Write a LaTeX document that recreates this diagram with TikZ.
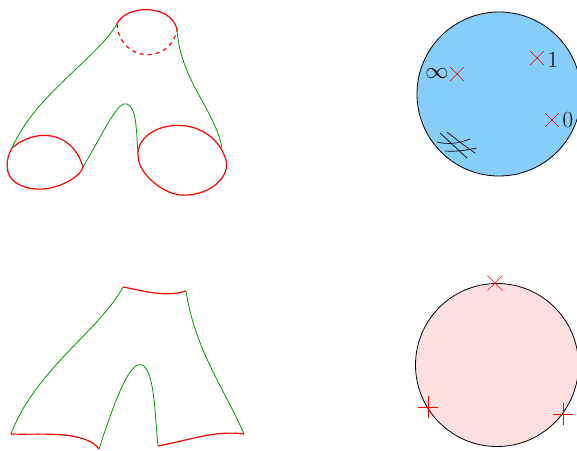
\documentclass[tikz,border=0pt]{standalone}
\usepackage{amsmath}
\usepackage{tikz}
\definecolor{seam}{RGB}{0,150,0}
\definecolor{sphere}{RGB}{135,206,250}
\definecolor{disc}{RGB}{255,224,224}
\tikzset{
  every picture/.style={font=\fontsize{17}{20}\selectfont},
  cuff/.style={red,line width=0.9pt},
  side/.style={seam,line width=0.6pt},
  puncture/.style={red,line width=0.5pt},
  rim/.style={draw=black,line width=0.6pt},
}
\begin{document}
\begin{tikzpicture}[x=0.75pt,y=-0.75pt]
  \useasboundingbox (0,0) rectangle (577,450);
  % pair of pants, closed
  \draw[cuff] (117,24) .. controls (125,5) and (170,3) .. (177,29);
  \draw[cuff,dashed] (117,24) .. controls (120,64) and (172,64) .. (177,29);
  \draw[cuff] (12,148) .. controls (35,128) and (72,130) .. (83,167)
    .. controls (80,180) and (40,200) .. (15,182) .. controls (5,175) and (5,160) .. cycle;
  \draw[cuff] (138,153) .. controls (140,120) and (210,110) .. (226,160)
    .. controls (232,185) and (190,205) .. (165,190) .. controls (150,182) and (137,168) .. cycle;
  \draw[side] (117,24) .. controls (95,60) and (35,95) .. (12,148);
  \draw[side] (83,167) .. controls (105,130) and (118,100) .. (127,104)
    .. controls (137,108) and (136,130) .. (138,152);
  \draw[side] (177,29) .. controls (180,80) and (215,110) .. (222,148);
  % sphere with three punctures
  \fill[sphere] (499,94) circle (82);
  \draw[rim] (499,94) circle (82);
  \draw[puncture] (457,74) +(-7,-7) -- +(7,7) +(-7,7) -- +(7,-7);
  \draw[puncture] (537,58) +(-7,-7) -- +(7,7) +(-7,7) -- +(7,-7);
  \draw[puncture] (552,120) +(-7,-7) -- +(7,7) +(-7,7) -- +(7,-7);
  \node (inf) at (437,74) {$\infty$};
  \node (one) at (553,60) {$1$};
  \node (zero) at (568,120) {$0$};
  \draw[line width=0.5pt] (440,133) .. controls (450,142) and (458,150) .. (467,158);
  \draw[line width=0.5pt] (447,132) .. controls (457,140) and (465,146) .. (475,153);
  \draw[line width=0.5pt] (437,142) .. controls (448,145) and (460,143) .. (470,139);
  \draw[line width=0.5pt] (445,151) .. controls (456,152) and (467,150) .. (477,148);
  % pair of pants, cut open
  \draw[cuff] (123,287) .. controls (140,290) and (165,298) .. (186,291);
  \draw[cuff] (11,434) .. controls (40,435) and (85,430) .. (99,449);
  \draw[cuff] (158,446) .. controls (190,440) and (215,430) .. (244,434);
  \draw[side] (123,287) .. controls (100,330) and (35,370) .. (11,434);
  \draw[side] (99,449) .. controls (115,400) and (130,360) .. (142,365)
    .. controls (155,370) and (155,420) .. (158,446);
  \draw[side] (186,291) .. controls (195,350) and (225,390) .. (244,434);
  % disc with boundary points
  \fill[disc] (497,365) circle (81.5);
  \draw[rim] (497,365) circle (81.5);
  \draw[puncture] (495,283) +(-7.5,-7.5) -- +(7.5,7.5) +(-7.5,7.5) -- +(7.5,-7.5);
  \draw[puncture] (428,407) +(-10,0) -- +(10,0) +(0,-11) -- +(0,11);
  \draw[puncture] (563,414) +(-10,0) -- +(10,0) +(0,-11) -- +(0,11);
\end{tikzpicture}
\end{document}
